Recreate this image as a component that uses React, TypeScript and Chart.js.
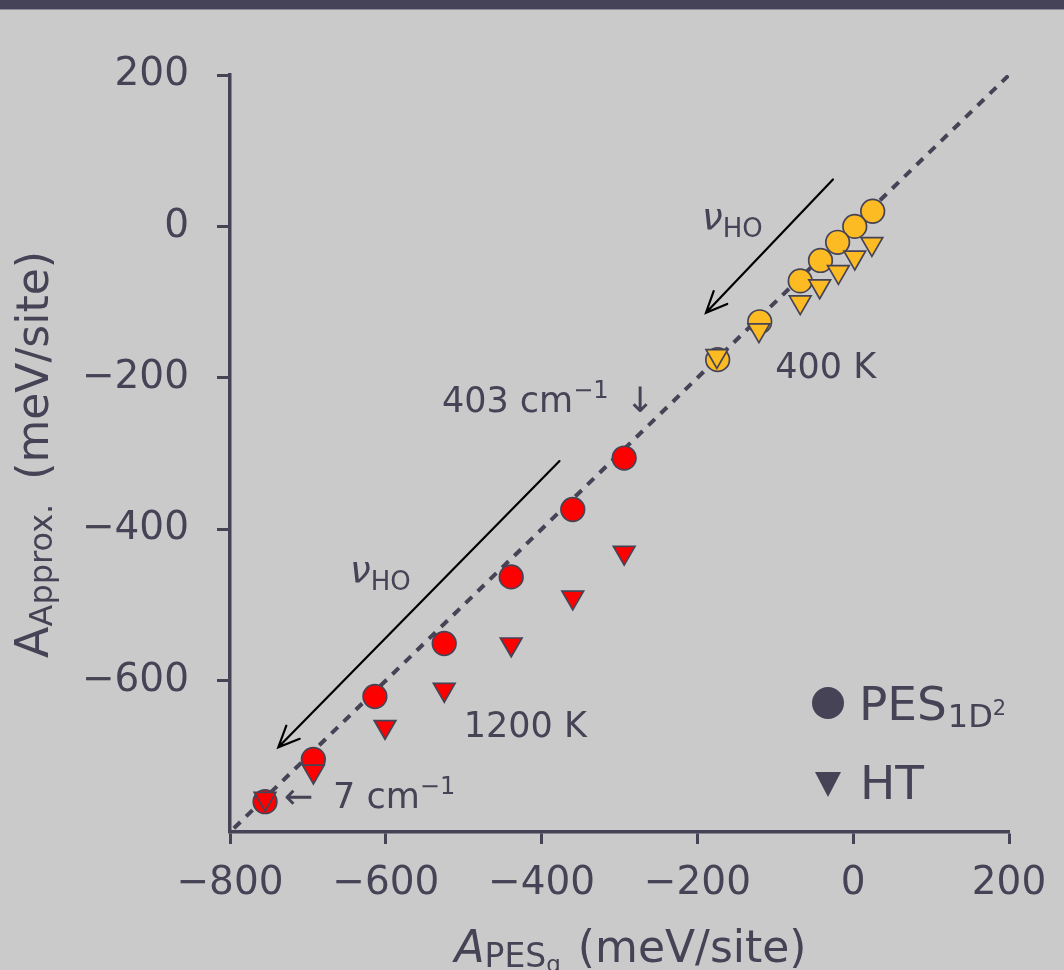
import React, { useEffect, useRef } from 'react';
import { Chart, registerables } from 'chart.js';

Chart.register(...registerables);

// ---- data (meV/site) ----
// 400 K sweep
const pes400X = [25, 2, -20, -42, -68, -120, -174];
const pes400Y = [20, 0, -21, -45, -72, -126, -176];
const ht400X = [24, 2, -19, -43, -68, -121, -175];
const ht400Y = [-23, -41, -60, -79, -100, -137, -171];

// 1200 K sweep
const pes1200X = [-294, -360, -439, -525, -614, -693, -755];
const pes1200Y = [-306, -374, -463, -551, -621, -704, -760];
const ht1200X = [-294, -360, -439, -525, -601, -693, -755];
const ht1200Y = [-431, -490, -552, -612, -661, -720, -756];

// y = x reference line
const diagonal = [-795, 200];

const xTicks = [-800, -600, -400, -200, 0, 200];
const yTicks = [200, 0, -200, -400, -600];

// annotation arrows: [fromX, fromY, toX, toY]
const arrowUpper = [-26, 62, -189, -114];
const arrowLower = [-377, -310, -738, -688];

// ---- style ----
const INK = '#454355';
const BG = '#cacaca';
const BAR = '#464359';
const AMBER = '#fcbb22';
const RED = '#ff0000';
const FAMILY = '"DejaVu Sans", "Liberation Sans", sans-serif';

type Seg = { t: string; size: number; dy?: number; italic?: boolean; gap?: number };

const fontOf = (s: Seg) => `${s.italic ? 'italic ' : ''}${s.size}px ${FAMILY}`;

function runWidth(ctx: CanvasRenderingContext2D, segs: Seg[]) {
  let w = 0;
  for (const s of segs) {
    ctx.font = fontOf(s);
    w += (s.gap || 0) + ctx.measureText(s.t).width;
  }
  return w;
}

function drawRun(ctx: CanvasRenderingContext2D, segs: Seg[], x: number, y: number) {
  let cx = x;
  ctx.textAlign = 'left';
  ctx.textBaseline = 'alphabetic';
  for (const s of segs) {
    cx += s.gap || 0;
    ctx.font = fontOf(s);
    ctx.fillText(s.t, cx, y + (s.dy || 0));
    cx += ctx.measureText(s.t).width;
  }
}

const fmt = (v: number) => (v < 0 ? '\u2212' + Math.abs(v) : String(v));
const pts = (xs: number[], ys: number[]) => xs.map((x, i) => ({ x, y: ys[i] }));

const overlay = {
  id: 'overlay',
  afterDatasetsDraw(chart: any) {
    const { ctx, chartArea: a } = chart;
    const sx = chart.scales.x;
    const sy = chart.scales.y;
    const px = (v: number) => sx.getPixelForValue(v);
    const py = (v: number) => sy.getPixelForValue(v);
    ctx.save();

    // arrows along the vibrational frequency direction
    const arrow = (p: number[]) => {
      const x0 = px(p[0]), y0 = py(p[1]), x1 = px(p[2]), y1 = py(p[3]);
      const ang = Math.atan2(y0 - y1, x0 - x1);
      const L = 23, h = 0.42;
      ctx.strokeStyle = '#000';
      ctx.lineWidth = 2.2;
      ctx.lineCap = 'round';
      ctx.beginPath();
      ctx.moveTo(x0, y0);
      ctx.lineTo(x1, y1);
      ctx.moveTo(x1 + L * Math.cos(ang + h), y1 + L * Math.sin(ang + h));
      ctx.lineTo(x1, y1);
      ctx.lineTo(x1 + L * Math.cos(ang - h), y1 + L * Math.sin(ang - h));
      ctx.stroke();
    };
    arrow(arrowUpper);
    arrow(arrowLower);

    ctx.fillStyle = INK;
    const A = 35;
    const nuHO: Seg[] = [
      { t: '\u03bd', size: 37, italic: true },
      { t: 'HO', size: 26, dy: 7 },
    ];
    drawRun(ctx, nuHO, px(-194), py(-5));
    drawRun(ctx, nuHO, px(-646), py(-471));
    drawRun(ctx, [{ t: '400 K', size: A }], px(-100), py(-200));
    drawRun(ctx, [{ t: '1200 K', size: A }], px(-500), py(-675));
    drawRun(ctx, [
      { t: '403 cm', size: A },
      { t: '\u22121', size: 24, dy: -14 },
      { t: '\u2193', size: A, gap: 17 },
    ], px(-528), py(-245));
    drawRun(ctx, [
      { t: '\u2190', size: A },
      { t: '7 cm', size: A, gap: 20 },
      { t: '\u22121', size: 24, dy: -14 },
    ], px(-731), py(-768));

    // legend
    const lx = a.right - 181;
    const ly = a.bottom - 129;
    ctx.beginPath();
    ctx.arc(lx, ly, 16, 0, Math.PI * 2);
    ctx.fill();
    const tTop = ly + 69;
    ctx.beginPath();
    ctx.moveTo(lx - 13, tTop);
    ctx.lineTo(lx + 13, tTop);
    ctx.lineTo(lx, tTop + 25);
    ctx.closePath();
    ctx.fill();
    drawRun(ctx, [
      { t: 'PES', size: 47 },
      { t: '1D', size: 32, dy: 7, gap: 1 },
      { t: '2', size: 21, dy: -5 },
    ], lx + 31, ly + 17);
    drawRun(ctx, [{ t: 'HT', size: 47 }], lx + 32, ly + 96);

    // x axis title
    const xt: Seg[] = [
      { t: 'A', size: 44, italic: true },
      { t: 'PES', size: 33, dy: 5 },
      { t: 'g', size: 23, dy: 10 },
      { t: '(meV/site)', size: 44, gap: 17 },
    ];
    const xw = runWidth(ctx, xt);
    drawRun(ctx, xt, (a.left + a.right) / 2 + 11 - xw / 2, a.bottom + 130);

    // y axis title
    const yt: Seg[] = [
      { t: 'A', size: 46 },
      { t: 'Approx.', size: 32, dy: 4 },
      { t: '(meV/site)', size: 44, gap: 24 },
    ];
    const yw = runWidth(ctx, yt);
    ctx.translate(a.left - 182, (a.top + a.bottom) / 2 + 1);
    ctx.rotate(-Math.PI / 2);
    drawRun(ctx, yt, -yw / 2, 0);
    ctx.restore();
  },
};

export default function App() {
  const ref = useRef<HTMLCanvasElement | null>(null);

  useEffect(() => {
    if (!ref.current) return;
    const markerBase = {
      showLine: false,
      pointBorderColor: INK,
      pointBorderWidth: 1.7,
    };
    const tri = { ...markerBase, pointStyle: 'triangle', pointRotation: 180, pointRadius: 12.5, order: 1 };
    const dot = { ...markerBase, pointStyle: 'circle', pointRadius: 11.8, order: 2 };

    const chart = new Chart(ref.current, {
      type: 'scatter',
      data: {
        datasets: [
          { label: 'HT 400 K', data: pts(ht400X, ht400Y), pointBackgroundColor: AMBER, ...tri },
          { label: 'HT 1200 K', data: pts(ht1200X, ht1200Y), pointBackgroundColor: RED, ...tri },
          { label: 'PES 400 K', data: pts(pes400X, pes400Y), pointBackgroundColor: AMBER, ...dot },
          { label: 'PES 1200 K', data: pts(pes1200X, pes1200Y), pointBackgroundColor: RED, ...dot },
          {
            label: 'y = x',
            data: diagonal.map((v) => ({ x: v, y: v })),
            showLine: true,
            borderColor: INK,
            borderWidth: 4,
            borderDash: [9, 8],
            pointRadius: 0,
            order: 3,
          },
        ] as any,
      },
      options: {
        responsive: false,
        animation: false,
        events: [],
        layout: { padding: { left: 0, top: 75, right: 55, bottom: 0 } },
        plugins: { legend: { display: false }, tooltip: { enabled: false } },
        scales: {
          x: {
            type: 'linear',
            min: -800,
            max: 200,
            afterBuildTicks: (s: any) => {
              s.ticks = xTicks.map((value) => ({ value }));
            },
            afterFit: (s: any) => {
              s.height = 138;
            },
            grid: { drawOnChartArea: false, drawTicks: true, tickLength: 12, tickWidth: 3, tickColor: INK },
            border: { display: true, color: INK, width: 3.5 },
            ticks: {
              color: INK,
              font: { family: FAMILY, size: 39 },
              padding: 16,
              autoSkip: false,
              maxRotation: 0,
              callback: (v: any) => fmt(Number(v)),
            },
          },
          y: {
            type: 'linear',
            min: -800,
            max: 200,
            afterBuildTicks: (s: any) => {
              s.ticks = yTicks.map((value) => ({ value }));
            },
            afterFit: (s: any) => {
              s.width = 230;
            },
            grid: { drawOnChartArea: false, drawTicks: true, tickLength: 13, tickWidth: 3, tickColor: INK },
            border: { display: true, color: INK, width: 3.5 },
            ticks: {
              color: INK,
              font: { family: FAMILY, size: 39 },
              padding: 28,
              autoSkip: false,
              callback: (v: any) => fmt(Number(v)),
            },
          },
        },
      } as any,
      plugins: [overlay],
    });
    return () => chart.destroy();
  }, []);

  return (
    <div style={{ position: 'fixed', left: 0, top: 0, width: 1064, height: 970, background: BG, overflow: 'hidden' }}>
      <div style={{ position: 'absolute', left: 0, top: 0, width: '100%', height: 9, background: BAR, borderBottom: '1px solid #8d8b97' }} />
      <canvas ref={ref} width={1064} height={970} style={{ position: 'absolute', left: 0, top: 0 }} />
    </div>
  );
}
